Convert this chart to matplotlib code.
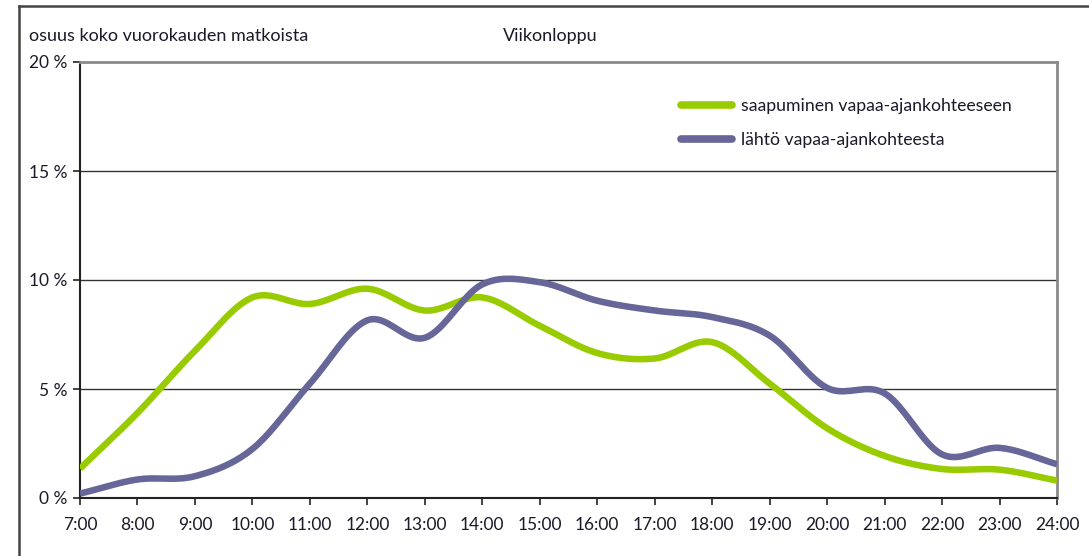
import numpy as np
import matplotlib
matplotlib.use("Agg")
import matplotlib.pyplot as plt
from matplotlib.lines import Line2D

hours = list(range(7, 25))
hour_labels = [f"{h}:00" for h in hours]
arrival = [1.35, 3.9, 6.75, 9.2, 8.9, 9.6, 8.6, 9.2, 7.9, 6.65, 6.4, 7.15,
           5.25, 3.2, 1.93, 1.33, 1.3, 0.8]
departure = [0.2, 0.85, 1.0, 2.25, 5.25, 8.15, 7.35, 9.8, 9.9, 9.05, 8.6, 8.3,
             7.45, 5.05, 4.8, 2.0, 2.3, 1.55]
y_ticks = [0, 5, 10, 15, 20]
y_labels = [f"{v} %" for v in y_ticks]
series_names = ["saapuminen vapaa-ajankohteeseen", "lähtö vapaa-ajankohteesta"]
colors = ["#99CC00", "#666699"]

plt.rcParams['font.family'] = ['Lato', 'DejaVu Sans']
TXT = "#1a1a2a"


def smooth(x, y, n=20):
    """Catmull-Rom smoothing (like Excel's smoothed line) for rendering."""
    x = np.asarray(x, float); y = np.asarray(y, float)
    px = np.concatenate([[2 * x[0] - x[1]], x, [2 * x[-1] - x[-2]]])
    py = np.concatenate([[2 * y[0] - y[1]], y, [2 * y[-1] - y[-2]]])
    xs, ys = [], []
    for i in range(1, len(px) - 2):
        t = np.linspace(0, 1, n, endpoint=False)
        for arr, out in ((px, xs), (py, ys)):
            p0, p1, p2, p3 = arr[i - 1], arr[i], arr[i + 1], arr[i + 2]
            out.extend(0.5 * ((2 * p1) + (-p0 + p2) * t +
                              (2 * p0 - 5 * p1 + 4 * p2 - p3) * t ** 2 +
                              (-p0 + 3 * p1 - 3 * p2 + p3) * t ** 3))
    xs.append(x[-1]); ys.append(y[-1])
    return np.array(xs), np.array(ys)


W, H = 1089, 556
fig = plt.figure(figsize=(W / 100, H / 100), dpi=100)
ax = fig.add_axes([80 / W, 1 - 498 / H, (1057 - 80) / W, (498 - 62) / H])

# outer frame
fig.add_artist(Line2D([19 / W, 19 / W], [0, 1 - 6 / H], color="#444444", lw=1.8,
                      transform=fig.transFigure))
fig.add_artist(Line2D([19 / W, 1.0], [1 - 6 / H, 1 - 6 / H], color="#444444", lw=1.8,
                      transform=fig.transFigure))

for yv in [5, 10, 15]:
    ax.axhline(yv, color="#333333", lw=1.0, zorder=1)

for vals, c, name in zip([arrival, departure], colors, series_names):
    sx, sy = smooth(hours, vals)
    ax.plot(sx, sy, color=c, lw=4.7, solid_capstyle="butt", zorder=3, label=name)

ax.set_xlim(7, 24)
ax.set_ylim(0, 20)
ax.set_xticks(hours)
ax.set_xticklabels(hour_labels)
ax.set_yticks(y_ticks)
ax.set_yticklabels(y_labels)
ax.tick_params(axis="both", direction="out", length=5, width=1.2, color="#222222",
               labelsize=12.5, labelcolor=TXT)
ax.tick_params(axis="x", pad=9)
ax.tick_params(axis="y", pad=4)
for s in ["left", "bottom"]:
    ax.spines[s].set_color("#222222"); ax.spines[s].set_linewidth(1.5)
for s in ["top", "right"]:
    ax.spines[s].set_color("#8a8a8a"); ax.spines[s].set_linewidth(2)

fig.text(29 / W, 1 - 36 / H, "osuus koko vuorokauden matkoista", fontsize=13,
         color=TXT, va="center", ha="left")
fig.text(503 / W, 1 - 36 / H, "Viikonloppu", fontsize=13, color=TXT,
         va="center", ha="left")

leg = ax.legend(loc="upper left", bbox_to_anchor=((674 - 80) / (1057 - 80), 1 - (91 - 62) / (498 - 62)),
                frameon=False, fontsize=12.7, handlelength=2.9, handletextpad=0.5,
                labelspacing=1.0, borderaxespad=0)
for t in leg.get_texts():
    t.set_color(TXT)
for h in leg.get_lines():
    h.set_linewidth(5.5)
    h.set_solid_capstyle("round")

fig.savefig("out.png", dpi=100, facecolor="white")
